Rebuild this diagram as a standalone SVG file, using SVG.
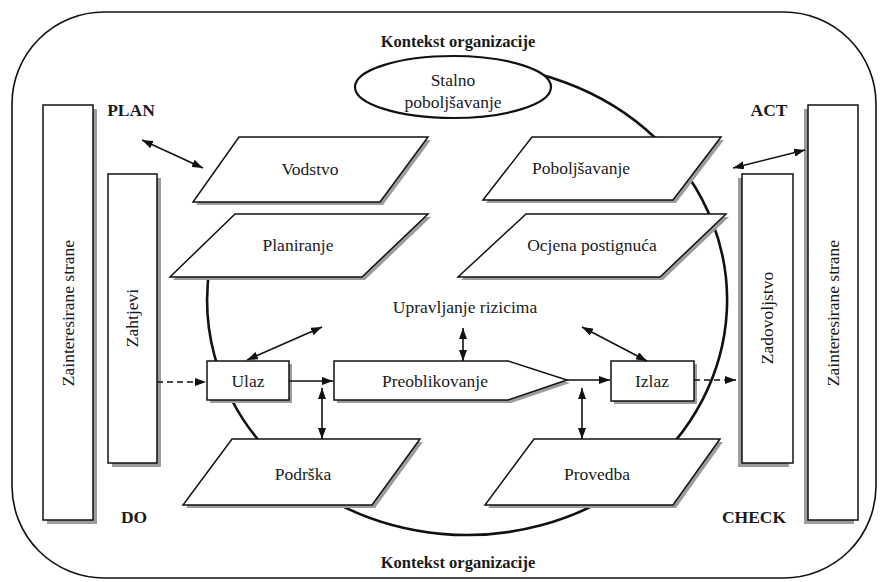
<svg xmlns="http://www.w3.org/2000/svg" width="880" height="582" viewBox="0 0 880 582" font-family="Liberation Serif, DejaVu Serif, serif">
<style>
  .t{font-size:17.5px;fill:#1a1a1a;text-anchor:middle}
  .b{font-weight:bold}
  .k{font-size:16.5px}
  .box{fill:#fff;stroke:#111;stroke-width:1.5}
  .sh{fill:#9c9c9c}
  .ln{fill:none;stroke:#111;stroke-width:1.6}
  .dash{stroke-dasharray:6 4}
</style>
<defs>
  <marker id="ah" markerUnits="userSpaceOnUse" markerWidth="11" markerHeight="8" refX="11" refY="4" orient="auto-start-reverse">
    <path d="M0,0 L11,4 L0,8 z" fill="#111"/>
  </marker>
</defs>
<rect width="880" height="582" fill="#fff"/>

<!-- organisation context frame -->
<g id="frame">
  <rect x="12" y="12" width="864" height="566" rx="92" ry="92" fill="none" stroke="#111" stroke-width="1.6"/>
  <text class="t b k" x="458" y="47">Kontekst organizacije</text>
  <text class="t b k" x="458" y="568">Kontekst organizacije</text>
</g>

<!-- improvement cycle -->
<g id="cycle">
  <path d="M210 265 A260 235 0 1 0 467 65" fill="none" stroke="#111" stroke-width="2.6"/>
</g>

<!-- phase labels -->
<g id="labels">
  <text class="t b" x="131" y="116">PLAN</text>
  <text class="t b" x="134" y="523">DO</text>
  <text class="t b" x="769" y="116">ACT</text>
  <text class="t b" x="754" y="523">CHECK</text>
</g>

<g id="stalno">
  <ellipse cx="453" cy="87" rx="98" ry="31" fill="#fff" stroke="#111" stroke-width="2.2"/>
  <text class="t" x="453" y="86">Stalno</text>
  <text class="t" x="453" y="108">poboljšavanje</text>
</g>

<g id="zainteresirane-lijevo">
  <rect class="sh" x="47" y="109" width="50" height="415"/>
  <rect class="box" x="43" y="105" width="50" height="415"/>
  <text class="t" transform="rotate(-90 68 313)" x="68" y="319">Zainteresirane strane</text>
</g>

<g id="zahtjevi">
  <rect class="sh" x="112" y="178" width="49" height="289"/>
  <rect class="box" x="108" y="174" width="49" height="289"/>
  <text class="t" transform="rotate(-90 132 318)" x="132" y="324">Zahtjevi</text>
</g>

<g id="zainteresirane-desno">
  <rect class="sh" x="804" y="109" width="50" height="415"/>
  <rect class="box" x="808" y="105" width="50" height="415"/>
  <text class="t" transform="rotate(-90 833 313)" x="833" y="319">Zainteresirane strane</text>
</g>

<g id="zadovoljstvo">
  <rect class="sh" x="738" y="178" width="51" height="289"/>
  <rect class="box" x="742" y="174" width="51" height="289"/>
  <text class="t" transform="rotate(-90 767 318)" x="767" y="324">Zadovoljstvo</text>
</g>

<g id="vodstvo">
  <polygon class="sh" points="242,140 431,140 383,205 196,205"/>
  <polygon class="box" points="239,137 428,137 380,202 193,202"/>
  <text class="t" x="310" y="175">Vodstvo</text>
</g>

<g id="planiranje">
  <polygon class="sh" points="238,217 431,217 365,280 173,280"/>
  <polygon class="box" points="235,214 428,214 362,277 170,277"/>
  <text class="t" x="298" y="251">Planiranje</text>
</g>

<g id="poboljsavanje">
  <polygon class="sh" points="535,140 724,140 676,203 486,203"/>
  <polygon class="box" points="532,137 721,137 673,200 483,200"/>
  <text class="t" x="581" y="174">Poboljšavanje</text>
</g>

<g id="ocjena">
  <polygon class="sh" points="529,217 729,217 663,280 461,280"/>
  <polygon class="box" points="526,214 726,214 660,277 458,277"/>
  <text class="t" x="592" y="251">Ocjena postignuća</text>
</g>

<g id="upravljanje">
  <text class="t" x="465" y="313">Upravljanje rizicima</text>
</g>

<g id="ulaz">
  <rect class="sh" x="210" y="364" width="82" height="39"/>
  <rect class="box" x="207" y="361" width="82" height="39"/>
  <text class="t" x="248" y="387">Ulaz</text>
</g>

<g id="preoblikovanje">
  <polygon class="sh" points="337,364 511,364 570,383 511,403 337,403"/>
  <polygon class="box" points="334,361 508,361 567,380 508,400 334,400"/>
  <text class="t" x="435" y="387">Preoblikovanje</text>
</g>

<g id="izlaz">
  <rect class="sh" x="614" y="364" width="83" height="40"/>
  <rect class="box" x="611" y="361" width="83" height="40"/>
  <text class="t" x="652" y="387">Izlaz</text>
</g>

<g id="podrska">
  <polygon class="sh" points="235,442 423,442 375,508 186,508"/>
  <polygon class="box" points="232,439 420,439 372,505 183,505"/>
  <text class="t" x="303" y="480">Podrška</text>
</g>

<g id="provedba">
  <polygon class="sh" points="537,442 723,442 676,508 488,508"/>
  <polygon class="box" points="534,439 720,439 673,505 485,505"/>
  <text class="t" x="597" y="480">Provedba</text>
</g>

<!-- connectors -->
<g id="connectors">
  <line class="ln" x1="142" y1="140" x2="203" y2="168" marker-start="url(#ah)" marker-end="url(#ah)"/>
  <line class="ln" x1="733" y1="168" x2="805" y2="150" marker-start="url(#ah)" marker-end="url(#ah)"/>
  <line class="ln dash" x1="157" y1="382" x2="206" y2="382" marker-end="url(#ah)"/>
  <line class="ln" x1="289" y1="381" x2="333" y2="381" marker-end="url(#ah)"/>
  <line class="ln" x1="567" y1="380" x2="610" y2="380" marker-end="url(#ah)"/>
  <line class="ln dash" x1="694" y1="380" x2="736" y2="380" marker-end="url(#ah)"/>
  <line class="ln" x1="247" y1="360" x2="322" y2="327" marker-start="url(#ah)" marker-end="url(#ah)"/>
  <line class="ln" x1="463" y1="328" x2="463" y2="361" marker-start="url(#ah)" marker-end="url(#ah)"/>
  <line class="ln" x1="647" y1="361" x2="582" y2="327" marker-start="url(#ah)" marker-end="url(#ah)"/>
  <line class="ln" x1="322" y1="388" x2="322" y2="439" marker-start="url(#ah)" marker-end="url(#ah)"/>
  <line class="ln" x1="582" y1="388" x2="582" y2="439" marker-start="url(#ah)" marker-end="url(#ah)"/>
</g>
</svg>
